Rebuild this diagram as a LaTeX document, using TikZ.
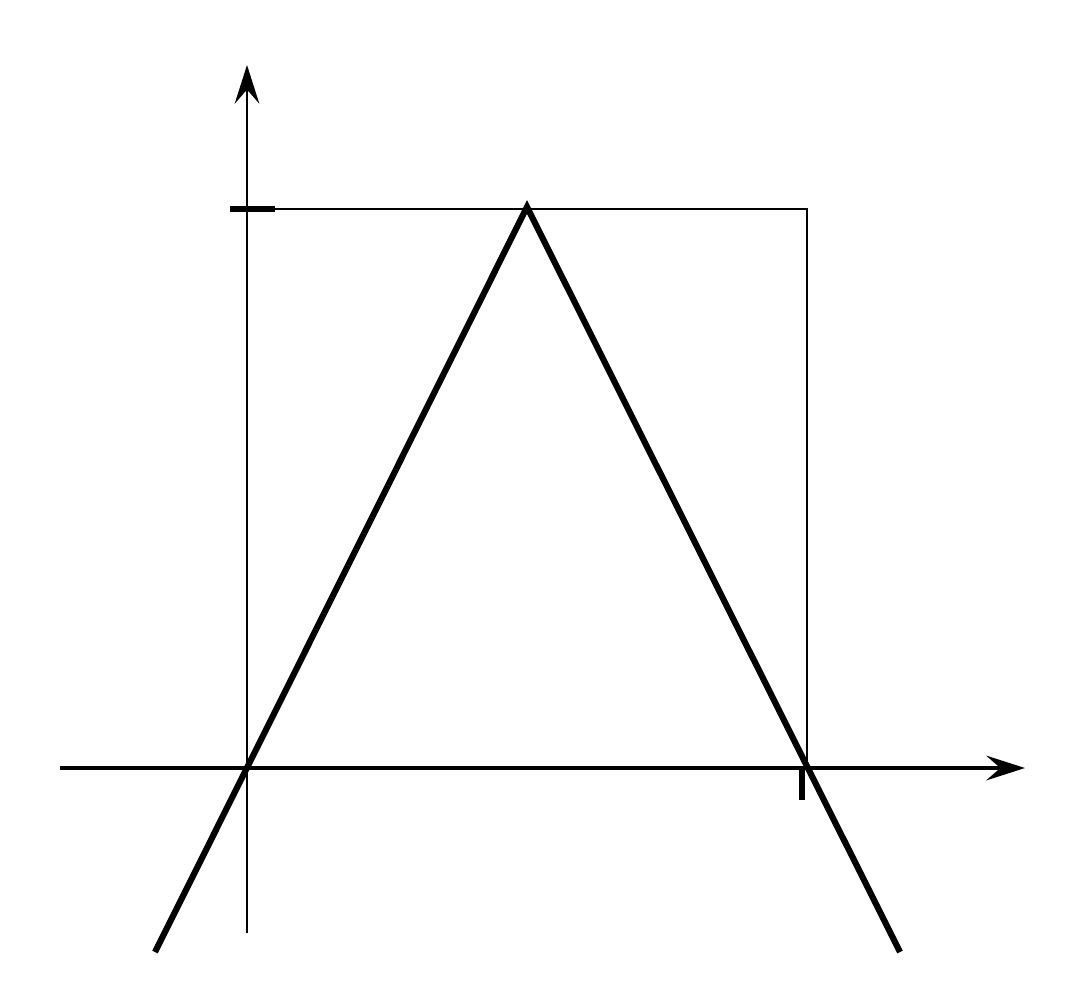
\documentclass[tikz,border=0pt]{standalone}
\usetikzlibrary{arrows.meta}
\begin{document}
\begin{tikzpicture}[x=0.01cm,y=-0.01cm,
  thinline/.style={line width=0.65pt},
  axisline/.style={line width=1.3pt},
  graphline/.style={line width=1.75pt},
  ticka/.style={line width=1.6pt},
  tip/.style={-{Stealth[length=11pt,width=7pt,inset=4pt]}}]
\useasboundingbox (0,0) rectangle (1080,1006);
% coordinates
\coordinate (O) at (247,768);
\coordinate (Ybot) at (247,933);
\coordinate (Ytop) at (247,65);
\coordinate (Xl) at (60,768);
\coordinate (Xr) at (1025,768);
\coordinate (TL) at (247,209);
\coordinate (TR) at (807,209);
\coordinate (BR) at (807,768);
\coordinate (TickL1) at (230,209);
\coordinate (TickL2) at (275,209);
\coordinate (TickB1) at (802,768);
\coordinate (TickB2) at (802,800);
\coordinate (P1) at (155,952);
\coordinate (Apex) at (527,207);
\coordinate (P2) at (900,952);
% axes
\draw[thinline,tip] (Ybot) -- (Ytop);
\draw[axisline,tip] (Xl) -- (Xr);
% box
\draw[thinline] (TL) -- (TR) -- (BR);
% ticks
\draw[ticka] (TickL1) -- (TickL2);
\draw[ticka] (TickB1) -- (TickB2);
% triangle
\draw[graphline] (P1) -- (Apex) -- (P2);
\end{tikzpicture}
\end{document}
